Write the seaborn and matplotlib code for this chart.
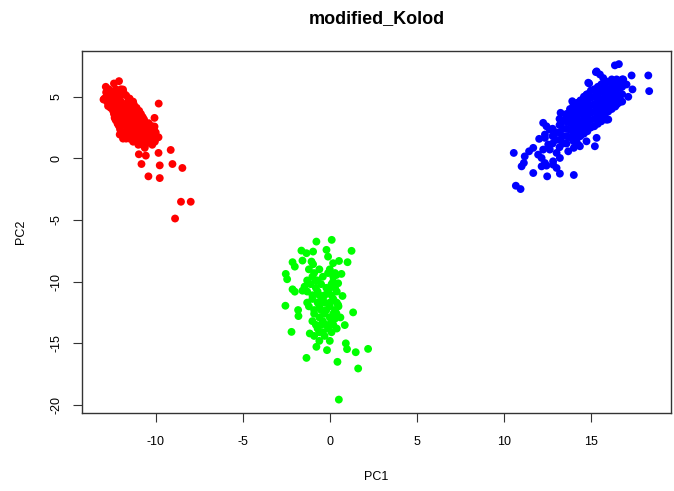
import matplotlib
matplotlib.use("Agg")
import matplotlib.pyplot as plt
import pandas as pd
import seaborn as sns

# values (PC1, PC2 per sample)
red_x = [-9.83, -10.07, -10.07, -9.84, -9.14, -9.84, -10.97, -10.57, -10.82, -9.77,
         -9.04, -8.47, -10.42, -9.77, -8.55, -7.99, -8.89, -11.88, -11.7, -10.75,
         -12.11, -12.4, -12.87, -11.88, -13.0,
         -12.7, -12.3, -12.0,
         -12.8, -12.4, -12.0, -11.7,
         -12.8, -12.4, -12.0, -11.6, -11.3,
         -12.6, -12.2, -11.8, -11.4, -11.1,
         -12.4, -12.0, -11.6, -11.2, -10.85,
         -12.3, -11.9, -11.5, -11.1, -10.7,
         -12.1, -11.7, -11.3, -10.9, -10.5, -10.2,
         -11.9, -11.5, -11.1, -10.7, -10.3, -10.0,
         -11.5, -11.1, -10.7, -10.3, -10.0,
         -11.0, -10.6, -10.2,
         -12.55, -12.15, -11.85, -11.55, -11.35, -11.05, -10.85, -11.25, -12.25, -11.95,
         -12.74, -12.36, -12.16, -12.07, -10.67, -10.63,
         -12.85, -12.2, -11.85,
         -12.95, -12.6, -12.25, -11.5,
         -12.7, -12.3, -11.6, -11.25,
         -12.45, -12.05, -11.7, -11.3, -10.95,
         -12.35, -11.75, -11.45, -11.0, -10.75,
         -12.2, -11.8, -11.4, -10.8, -10.4,
         -12.05, -11.6, -11.2, -10.5, -10.1,
         -11.7, -10.9, -10.5, -10.15,
         -11.3, -10.9, -10.4, -10.05]
red_y = [4.44, 3.28, 2.58, 1.71, 0.68, 0.44, 0.33, 0.22, -0.46, -0.57,
         -0.46, -0.78, -1.46, -1.6, -3.52, -3.52, -4.88, 1.6, 1.6, 1.1,
         6.26, 6.07, 5.8, 5.58, 4.77,
         5.6, 5.6, 5.6,
         5.1, 5.1, 5.1, 5.1,
         4.6, 4.6, 4.6, 4.6, 4.6,
         4.1, 4.1, 4.1, 4.1, 4.1,
         3.6, 3.6, 3.6, 3.6, 3.6,
         3.1, 3.1, 3.1, 3.1, 3.1,
         2.6, 2.6, 2.6, 2.6, 2.6, 2.6,
         2.1, 2.1, 2.1, 2.1, 2.1, 2.1,
         1.6, 1.6, 1.6, 1.6, 1.6,
         1.1, 1.1, 1.1,
         5.35, 4.85, 4.35, 3.85, 3.35, 2.85, 2.35, 1.85, 3.85, 3.35,
         4.24, 3.28, 2.74, 1.93, 3.15, 0.85,
         5.35, 5.35, 5.35,
         4.85, 4.85, 4.85, 4.85,
         4.35, 4.35, 4.35, 4.35,
         3.85, 3.85, 3.85, 3.85, 3.85,
         3.35, 3.35, 3.35, 3.35, 3.35,
         2.85, 2.85, 2.85, 2.85, 2.85,
         2.35, 2.35, 2.35, 2.35, 2.35,
         1.85, 1.85, 1.85, 1.85,
         1.35, 1.35, 1.35, 1.35]

green_x = [-0.77, 0.11, 1.25, -1.63, -1.34, -0.96, -0.19, -0.1, 0.19, 0.53,
           1.02, -2.14, -2.01, -1.57, -1.05, -0.96, -2.53, -2.45, -2.14, -2.01,
           -1.57, -2.55, -1.82, -1.8, 0.73, 1.34, -2.2, -1.15, -0.77, -1.34,
           -0.16, 0.92, 0.99, 1.49, 2.2, 0.44, 1.63, 0.52, 0.86, 0.61,
           0.38, 0.67, 0.48, 0.19, 0.48, 0.38,
           -1.2, -0.6, 0.0,
           -1.0, -0.4, 0.2,
           -1.1, -0.5, 0.1,
           -1.3, -0.7, -0.1, 0.4,
           -1.0, -0.4, 0.2,
           -1.2, -0.6, 0.0, 0.5,
           -0.9, -0.3, 0.2,
           -1.0, -0.4, 0.1,
           -0.7, -0.1, 0.4,
           -0.9, -0.3,
           0.0, -0.6,
           -0.3, -0.6, 0.0, -0.2, -0.5, -0.1, -0.8, 0.3, -0.4, -1.3, -1.45,
           -0.9, 0.3,
           -1.3, -0.7,
           -0.8, -0.2, 0.3,
           -1.0, -0.3, 0.1,
           -0.7, 0.0, 0.4,
           -0.9, -0.5, 0.3,
           -0.6, 0.0,
           -0.8, -0.2, 0.2,
           -0.6, 0.1]
green_y = [-6.75, -6.61, -7.5, -7.48, -7.69, -7.56, -7.42, -7.97, -8.5, -8.32,
           -8.42, -8.42, -8.78, -8.29, -8.37, -8.59, -9.37, -9.8, -10.62, -10.81,
           -10.73, -11.95, -12.3, -12.79, -11.16, -12.49, -14.07, -14.2, -15.28, -16.18,
           -15.55, -15.0, -15.47, -15.72, -15.45, -16.5, -17.04, -19.56, -13.52, -12.9,
           -9.46, -9.37, -10.13, -10.0, -11.89, -12.57,
           -9.0, -9.0, -9.0,
           -9.6, -9.6, -9.6,
           -10.2, -10.2, -10.2,
           -10.8, -10.8, -10.8, -10.8,
           -11.4, -11.4, -11.4,
           -12.0, -12.0, -12.0, -12.0,
           -12.6, -12.6, -12.6,
           -13.2, -13.2, -13.2,
           -13.8, -13.8, -13.8,
           -14.4, -14.4,
           -14.8, -14.8,
           -11.7, -11.1, -10.5, -12.3, -13.5, -9.3, -9.9, -13.0, -14.1, -11.7, -10.4,
           -9.3, -9.3,
           -9.9, -9.9,
           -10.5, -10.5, -10.5,
           -11.1, -11.1, -11.1,
           -11.7, -11.7, -11.7,
           -12.3, -12.3, -12.3,
           -12.9, -12.9,
           -13.5, -13.5, -13.5,
           -14.1, -14.1]

blue_x = [10.57, 10.69, 10.96, 11.69, 12.49, 13.22, 14.02, 11.02, 11.15, 11.2,
          11.45, 11.69, 12.17, 12.45, 12.83, 13.03, 11.97, 12.26, 12.64, 13.03,
          13.22, 12.03, 12.36, 12.26, 12.45, 12.64, 13.26, 13.56, 13.93, 14.9,
          15.29, 15.52, 16.38, 16.61, 17.34, 18.3, 18.35, 17.39, 17.15, 17.05,
          16.86, 16.48, 16.0, 15.23, 15.33, 14.02, 14.37, 14.75,
          15.33, 15.71, 16.67, 14.85, 14.75, 16.48, 15.9, 12.17, 12.36, 12.83,
          12.55, 13.7, 14.27, 12.36,
          12.8, 12.8, 12.8,
          13.2, 13.2, 13.2, 13.2, 13.2,
          13.6, 13.6, 13.6, 13.6, 13.6,
          14.0, 14.0, 14.0, 14.0, 14.0, 14.0,
          14.4, 14.4, 14.4, 14.4, 14.4, 14.4,
          14.8, 14.8, 14.8, 14.8, 14.8, 14.8,
          15.2, 15.2, 15.2, 15.2, 15.2, 15.2,
          15.6, 15.6, 15.6, 15.6, 15.6, 15.6,
          16.0, 16.0, 16.0, 16.0, 16.0,
          16.4, 16.4, 16.4, 16.4,
          16.8, 16.8, 16.8, 16.8,
          13.0, 13.0,
          13.4, 13.4, 13.4, 13.4,
          13.8, 13.8, 13.8, 13.8, 13.8,
          14.2, 14.2, 14.2, 14.2, 14.2, 14.2,
          14.6, 14.6, 14.6, 14.6, 14.6, 14.6,
          15.0, 15.0, 15.0, 15.0, 15.0, 15.0,
          15.4, 15.4, 15.4, 15.4, 15.4, 15.4,
          15.8, 15.8, 15.8, 15.8, 15.8, 15.8,
          16.2, 16.2, 16.2, 16.2, 16.2,
          16.6, 16.6, 16.6, 16.6]
blue_y = [0.44, -2.22, -2.49, -1.19, -1.46, -1.24, -1.35, -0.65, -0.37, 0.16,
          0.57, 0.85, -0.65, -0.59, -0.51, -0.78, 0.3, 0.71, 0.71, 0.44,
          0.03, 1.58, 1.66, 2.88, 2.6, 2.33, 3.69, 3.28, 4.63, 6.07,
          6.99, 6.8, 7.54, 7.64, 6.72, 6.72, 5.45, 5.59, 4.99, 5.99,
          6.4, 6.4, 3.15, 0.98, 1.66, 0.85, 0.98, 1.38,
          7.05, 6.51, 5.72, 6.13, 5.17, 4.36, 3.13, 0.03, -0.38, -0.24,
          1.12, 0.57, 1.12, 1.93,
          1.2, 1.8, 2.4,
          0.9, 1.5, 2.1, 2.7, 3.2,
          1.2, 1.8, 2.4, 3.0, 3.6,
          1.4, 2.0, 2.6, 3.2, 3.8, 4.3,
          1.8, 2.4, 3.0, 3.6, 4.2, 4.7,
          2.2, 2.8, 3.4, 4.0, 4.6, 5.2,
          2.6, 3.2, 3.8, 4.4, 5.0, 5.6,
          3.0, 3.6, 4.2, 4.8, 5.4, 6.0,
          3.8, 4.4, 5.0, 5.6, 6.2,
          4.2, 4.8, 5.4, 6.0,
          4.6, 5.2, 5.8, 6.4,
          1.5, 2.1,
          1.2, 1.8, 2.4, 3.0,
          1.7, 2.3, 2.9, 3.5, 4.0,
          1.6, 2.2, 2.8, 3.4, 4.0, 4.5,
          2.0, 2.6, 3.2, 3.8, 4.4, 5.0,
          2.5, 3.1, 3.7, 4.3, 4.9, 5.5,
          2.8, 3.4, 4.0, 4.6, 5.2, 5.8,
          3.4, 4.0, 4.6, 5.2, 5.8, 6.3,
          4.0, 4.6, 5.2, 5.8, 6.4,
          4.5, 5.1, 5.7, 6.2]

groups = ["red", "green", "blue"]
colors = {"red": "#FF0000", "green": "#00FF00", "blue": "#0000FF"}
x_ticks = [-10, -5, 0, 5, 10, 15]
y_ticks = [5, 0, -5, -10, -15, -20]


def main() -> None:
    df = pd.concat([
        pd.DataFrame({"PC1": red_x, "PC2": red_y, "group": "red"}),
        pd.DataFrame({"PC1": green_x, "PC2": green_y, "group": "green"}),
        pd.DataFrame({"PC1": blue_x, "PC2": blue_y, "group": "blue"}),
    ], ignore_index=True)

    sns.set_style("white")
    plt.rcParams["font.family"] = ["Liberation Sans", "DejaVu Sans"]
    plt.rcParams["axes.unicode_minus"] = False
    plt.rcParams["text.color"] = "black"
    plt.rcParams["axes.labelcolor"] = "black"

    fig = plt.figure(figsize=(6.74, 4.91), dpi=100)
    ax = fig.add_axes([81.7 / 674, 1 - 413 / 491, (671 - 81.7) / 674, (413 - 50.7) / 491])
    sns.scatterplot(data=df, x="PC1", y="PC2", hue="group", hue_order=groups,
                    palette=colors, s=32, linewidth=0, legend=False, ax=ax)

    # R style limits: data range stretched by 4 %
    x_min, x_max = df["PC1"].min(), df["PC1"].max()
    y_min, y_max = df["PC2"].min(), df["PC2"].max()
    ax.set_xlim(x_min - 0.04 * (x_max - x_min), x_max + 0.04 * (x_max - x_min))
    ax.set_ylim(y_min - 0.04 * (y_max - y_min), y_max + 0.04 * (y_max - y_min))

    ax.set_xticks(x_ticks)
    ax.set_yticks(y_ticks)
    ax.tick_params(axis="both", direction="out", length=6.5, width=0.8, color="#333333",
                   labelsize=9, labelcolor="black", bottom=True, left=True)
    ax.tick_params(axis="x", pad=10)
    ax.tick_params(axis="y", pad=7.5)
    for t in ax.get_yticklabels():
        t.set_rotation(90)
        t.set_va("center")
    for sp in ax.spines.values():
        sp.set_color("#333333")
        sp.set_linewidth(1.0)

    ax.set_xlabel("PC1", fontsize=9)
    ax.set_ylabel("PC2", fontsize=9)
    ax.xaxis.set_label_coords(0.5, -0.16)
    ax.yaxis.set_label_coords(-0.092, 0.5)
    ax.set_title("modified_Kolod", fontsize=13, fontweight="bold", pad=20, color="black")

    fig.savefig("out.png", dpi=100)
    plt.close(fig)


if __name__ == "__main__":
    main()
